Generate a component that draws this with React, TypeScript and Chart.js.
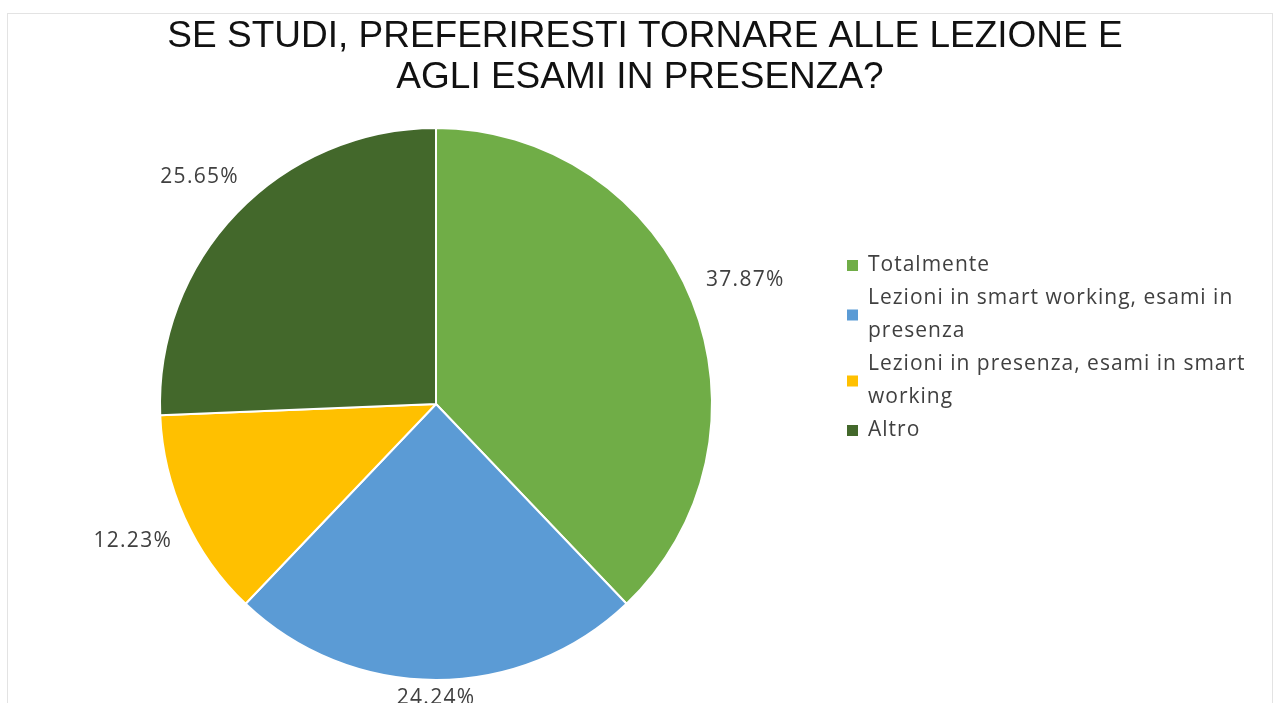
import React, { useEffect, useRef } from 'react';
import { Chart, registerables } from 'chart.js';

Chart.register(...registerables);

const TITLE_LINES = ['SE STUDI, PREFERIRESTI TORNARE ALLE LEZIONE E', 'AGLI ESAMI IN PRESENZA?'];
const CATEGORIES = [
  'Totalmente',
  'Lezioni in smart working, esami in presenza',
  'Lezioni in presenza, esami in smart working',
  'Altro',
];
const VALUES = [37.87, 24.24, 12.23, 25.65];
const COLORS = ['#70AD47', '#5B9BD5', '#FFC000', '#43682B'];

const W = 1280;
const H = 703;
const LABEL_FONT = '21px "Open Sans"';
const LEGEND_FONT = '21px "Open Sans"';
const TEXT_COLOR = '#404040';

const framePlugin = {
  id: 'frame',
  beforeDraw(chart: any) {
    const ctx = chart.ctx;
    ctx.save();
    ctx.fillStyle = '#ffffff';
    ctx.fillRect(0, 0, W, H);
    ctx.strokeStyle = '#e3e3e3';
    ctx.lineWidth = 1;
    ctx.strokeRect(7.5, 13.5, 1265, H + 20);
    ctx.fillStyle = '#111111';
    ctx.font = '37px "Liberation Sans"';
    ctx.textAlign = 'center';
    ctx.textBaseline = 'alphabetic';
    ctx.fillText(TITLE_LINES[0], 645, 47);
    ctx.fillText(TITLE_LINES[1], 640, 88);
    ctx.restore();
  },
};

const labelPlugin = {
  id: 'outLabels',
  afterDatasetsDraw(chart: any) {
    const ctx = chart.ctx;
    const meta = chart.getDatasetMeta(0);
    const data = chart.data.datasets[0].data as number[];
    ctx.save();
    ctx.font = LABEL_FONT;
    (ctx as any).letterSpacing = '1.3px';
    ctx.fillStyle = TEXT_COLOR;
    ctx.textAlign = 'center';
    ctx.textBaseline = 'middle';
    meta.data.forEach((arc: any, i: number) => {
      const p = arc.getProps(['x', 'y', 'startAngle', 'endAngle', 'outerRadius'], true);
      const mid = (p.startAngle + p.endAngle) / 2;
      const ux = Math.cos(mid);
      const uy = Math.sin(mid);
      const text = data[i].toFixed(2) + '%';
      const w = ctx.measureText(text).width;
      const h = 20;
      const target = p.outerRadius + 17;
      let lo = 0;
      let hi = p.outerRadius + 300;
      for (let k = 0; k < 40; k++) {
        const t = (lo + hi) / 2;
        const dx = Math.max(Math.abs(t * ux) - w / 2, 0);
        const dy = Math.max(Math.abs(t * uy) - h / 2, 0);
        if (Math.hypot(dx, dy) < target) lo = t;
        else hi = t;
      }
      const cx = p.x + lo * ux;
      let cy = p.y + lo * uy;
      if (cy + h / 2 > H + 5) cy = H + 5 - h / 2;
      ctx.fillText(text, cx, cy);
    });
    ctx.restore();
  },
};

function wrap(ctx: CanvasRenderingContext2D, text: string, maxW: number): string[] {
  const words = text.split(' ');
  const lines: string[] = [];
  let cur = '';
  for (const wd of words) {
    const test = cur ? cur + ' ' + wd : wd;
    if (ctx.measureText(test).width > maxW && cur) {
      lines.push(cur);
      cur = wd;
    } else cur = test;
  }
  if (cur) lines.push(cur);
  return lines;
}

const legendPlugin = {
  id: 'wrapLegend',
  afterDraw(chart: any) {
    const ctx = chart.ctx;
    const labels = chart.data.labels as string[];
    const colors = chart.data.datasets[0].backgroundColor as string[];
    ctx.save();
    ctx.font = LEGEND_FONT;
    (ctx as any).letterSpacing = '1px';
    ctx.textBaseline = 'middle';
    ctx.textAlign = 'left';
    const lineH = 33;
    let y = 265;
    labels.forEach((lab, i) => {
      const lines = wrap(ctx, lab, 395);
      const blockMid = y + ((lines.length - 1) * lineH) / 2;
      ctx.fillStyle = colors[i];
      ctx.fillRect(847, blockMid - 5, 11, 11);
      ctx.fillStyle = TEXT_COLOR;
      lines.forEach((ln, j) => ctx.fillText(ln, 868, y + j * lineH));
      y += lines.length * lineH;
    });
    ctx.restore();
  },
};

export default function App() {
  const ref = useRef<HTMLCanvasElement | null>(null);
  useEffect(() => {
    if (!ref.current) return;
    const chart = new Chart(ref.current, {
      type: 'pie',
      data: {
        labels: CATEGORIES,
        datasets: [
          {
            data: VALUES,
            backgroundColor: COLORS,
            borderColor: '#ffffff',
            borderWidth: 2,
            hoverOffset: 0,
          },
        ],
      },
      options: {
        responsive: false,
        animation: false,
        events: [],
        layout: { padding: { left: 159, right: 567, top: 127, bottom: 22 } },
        plugins: {
          legend: { display: false },
          title: { display: false },
          tooltip: { enabled: false },
        },
      },
      plugins: [framePlugin, labelPlugin, legendPlugin],
    });
    return () => chart.destroy();
  }, []);
  return (
    <div style={{ position: 'fixed', left: 0, top: 0, width: W, height: H, background: '#fff' }}>
      <canvas ref={ref} width={W} height={H} style={{ display: 'block' }} />
    </div>
  );
}
